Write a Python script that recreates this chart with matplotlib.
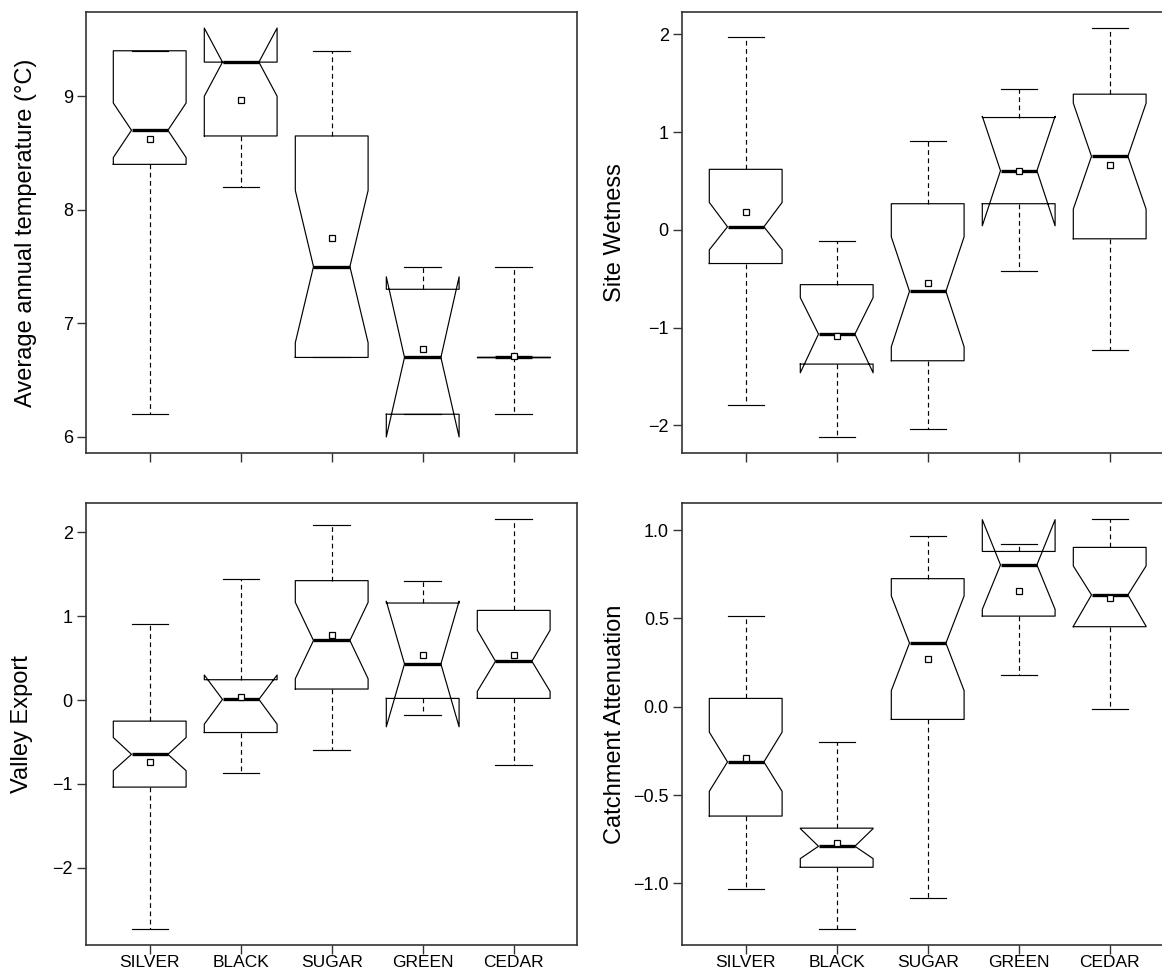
import matplotlib
matplotlib.use("Agg")
import matplotlib.pyplot as plt

plt.rcParams['font.family'] = ['Liberation Sans', 'DejaVu Sans']

groups = ["SILVER", "BLACK", "SUGAR", "GREEN", "CEDAR"]

# Average annual temperature
temp_whislo = [6.2, 8.2, 6.7, 6.2, 6.2]
temp_q1 = [8.4, 8.65, 6.7, 6.2, 6.7]
temp_cilo = [8.46, 9.0, 6.83, 6.0, 6.7]
temp_med = [8.7, 9.3, 7.5, 6.7, 6.7]
temp_cihi = [8.94, 9.6, 8.17, 7.41, 6.7]
temp_q3 = [9.4, 9.3, 8.65, 7.3, 6.7]
temp_whishi = [9.4, 9.3, 9.4, 7.5, 7.5]
temp_mean = [8.62, 8.97, 7.75, 6.77, 6.71]

# Site Wetness
wet_whislo = [-1.795, -2.12, -2.034, -0.424, -1.227]
wet_q1 = [-0.345, -1.374, -1.34, 0.267, -0.092]
wet_cilo = [-0.205, -1.463, -1.197, 0.041, 0.212]
wet_med = [0.031, -1.067, -0.629, 0.605, 0.752]
wet_cihi = [0.28, -0.694, -0.072, 1.162, 1.296]
wet_q3 = [0.619, -0.561, 0.267, 1.149, 1.388]
wet_whishi = [1.973, -0.113, 0.906, 1.436, 2.065]
wet_mean = [0.181, -1.084, -0.544, 0.605, 0.667]

# Valley Export
val_whislo = [-2.727, -0.874, -0.599, -0.172, -0.774]
val_q1 = [-1.038, -0.387, 0.132, 0.02, 0.02]
val_cilo = [-0.842, -0.287, 0.255, -0.319, 0.104]
val_med = [-0.647, 0.008, 0.711, 0.431, 0.463]
val_cihi = [-0.447, 0.299, 1.166, 1.18, 0.834]
val_q3 = [-0.251, 0.243, 1.425, 1.158, 1.07]
val_whishi = [0.91, 1.445, 2.084, 1.425, 2.16]
val_mean = [-0.739, 0.036, 0.774, 0.543, 0.539]

# Catchment Attenuation
cat_whislo = [-1.03, -1.256, -1.081, 0.178, -0.011]
cat_q1 = [-0.619, -0.909, -0.072, 0.513, 0.453]
cat_cilo = [-0.479, -0.86, 0.091, 0.551, 0.455]
cat_med = [-0.3125, -0.79, 0.36, 0.803, 0.633]
cat_cihi = [-0.144, -0.69, 0.627, 1.059, 0.797]
cat_q3 = [0.047, -0.6875, 0.725, 0.879, 0.902]
cat_whishi = [0.511, -0.197, 0.968, 0.92, 1.0625]
cat_mean = [-0.29, -0.771, 0.271, 0.655, 0.616]

W, H = 1162, 973
fig = plt.figure(figsize=(W / 100, H / 100), dpi=100)


def make_ax(left, top, width, height):
    return fig.add_axes([left / W, 1 - (top + height) / H, width / W, height / H])


def make_stats(whislo, q1, cilo, med, cihi, q3, whishi):
    out = []
    for i in range(len(med)):
        out.append(dict(whislo=whislo[i], q1=q1[i], cilo=cilo[i], med=med[i],
                        cihi=cihi[i], q3=q3[i], whishi=whishi[i], fliers=[]))
    return out


panels = [
    dict(rect=(86, 11.7, 491.4, 441.6), xr=5.7,
         stats=make_stats(temp_whislo, temp_q1, temp_cilo, temp_med, temp_cihi, temp_q3, temp_whishi),
         mean=temp_mean, yl=(5.856, 9.744), ticks=[6, 7, 8, 9],
         label="Average annual temperature (\u00b0C)", lx=-60, xlabels=False),
    dict(rect=(682, 11.7, 491.4, 441.6), xr=5.7,
         stats=make_stats(wet_whislo, wet_q1, wet_cilo, wet_med, wet_cihi, wet_q3, wet_whishi),
         mean=wet_mean, yl=(-2.287, 2.232), ticks=[-2, -1, 0, 1, 2],
         label="Site Wetness", lx=-67, xlabels=False),
    dict(rect=(86, 502.7, 491.4, 442.3), xr=5.7,
         stats=make_stats(val_whislo, val_q1, val_cilo, val_med, val_cihi, val_q3, val_whishi),
         mean=val_mean, yl=(-2.922, 2.355), ticks=[-2, -1, 0, 1, 2],
         label="Valley Export", lx=-64, xlabels=True),
    dict(rect=(682, 502.7, 491.4, 442.3), xr=5.7,
         stats=make_stats(cat_whislo, cat_q1, cat_cilo, cat_med, cat_cihi, cat_q3, cat_whishi),
         mean=cat_mean, yl=(-1.349, 1.155), ticks=[-1.0, -0.5, 0.0, 0.5, 1.0],
         label="Catchment Attenuation", lx=-67, xlabels=True),
]

pos = [1, 2, 3, 4, 5]
for p in panels:
    l, t, w, h = p["rect"]
    ax = make_ax(l, t, w, h)
    ax.bxp(p["stats"], positions=pos, widths=0.8, shownotches=True,
           showfliers=False,
           boxprops=dict(color="black", linewidth=0.85),
           whiskerprops=dict(color="black", linewidth=0.85, linestyle=(0, (4, 3))),
           capprops=dict(color="black", linewidth=0.85),
           medianprops=dict(color="black", linewidth=2.4, solid_capstyle="butt"))
    ax.plot(pos, p["mean"], linestyle="none", marker="s", markersize=4,
            markerfacecolor="white", markeredgecolor="black", markeredgewidth=0.9,
            zorder=5)
    ax.set_xlim(0.3, p["xr"])
    ax.set_ylim(*p["yl"])
    ax.set_yticks(p["ticks"])
    ax.set_xticks(pos)
    if p["xlabels"]:
        ax.set_xticklabels(groups)
    else:
        ax.set_xticklabels([])
    ax.tick_params(axis="both", direction="out", length=6.5, width=1.0,
                   color="#333333", labelsize=13, pad=3)
    ax.tick_params(axis="x", pad=1, labelsize=12.5)
    for s in ax.spines.values():
        s.set_color("#333333")
        s.set_linewidth(1.2)
    ax.set_ylabel(p["label"], fontsize=17, va="center")
    ax.yaxis.set_label_coords(p["lx"] / w, 0.5)

fig.savefig("out.png", dpi=100)
